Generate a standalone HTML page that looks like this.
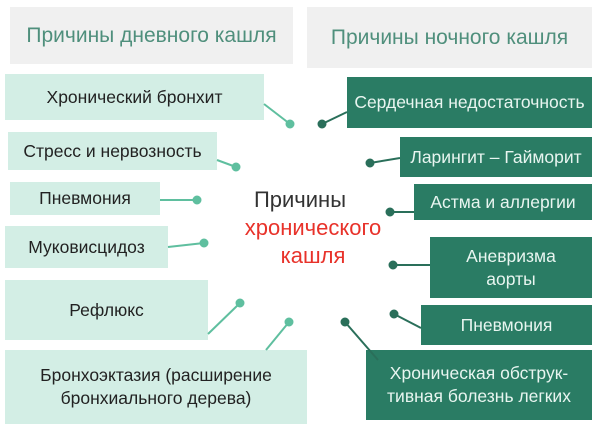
<!DOCTYPE html>
<html><head><meta charset="utf-8"><style>
body{margin:0;width:600px;height:426px;background:#fff;position:relative;overflow:hidden;font-family:"Liberation Sans","DejaVu Sans",sans-serif}
.b{position:absolute;display:flex;align-items:center;justify-content:center;text-align:center;font-size:17.5px;line-height:23px;white-space:nowrap}
.l{background:#d3eee5;color:#222}
.d{background:#2a7c64;color:#e8f5f0}
.h{background:#f0f0f0;color:#4f8f7c;font-size:21px}
svg{position:absolute;left:0;top:0}
.c{position:absolute;width:240px;text-align:center;font-size:22px;line-height:28px}
</style></head><body>
<div class="b h" style="left:10px;top:7px;width:283px;height:57px">Причины дневного кашля</div>
<div class="b h" style="left:307px;top:7px;width:285px;height:61px">Причины ночного кашля</div>

<div class="b l" style="left:5px;top:74px;width:259px;height:46px">Хронический бронхит</div>
<div class="b l" style="left:8px;top:132px;width:209px;height:38px">Стресс и нервозность</div>
<div class="b l" style="left:10px;top:182px;width:150px;height:33px">Пневмония</div>
<div class="b l" style="left:5px;top:226px;width:163px;height:42px">Муковисцидоз</div>
<div class="b l" style="left:5px;top:280px;width:203px;height:60px">Рефлюкс</div>
<div class="b l" style="left:5px;top:350px;width:302px;height:74px">Бронхоэктазия (расширение<br>бронхиального дерева)</div>

<div class="b d" style="left:347px;top:77px;width:245px;height:51px">Сердечная недостаточность</div>
<div class="b d" style="left:400px;top:137px;width:192px;height:40px">Ларингит – Гайморит</div>
<div class="b d" style="left:414px;top:184px;width:178px;height:36px">Астма и аллергии</div>
<div class="b d" style="left:430px;top:237px;width:162px;height:61px">Аневризма<br>аорты</div>
<div class="b d" style="left:421px;top:305px;width:171px;height:40px">Пневмония</div>
<div class="b d" style="left:366px;top:350px;width:226px;height:70px">Хроническая обструк-<br>тивная болезнь легких</div>

<div class="c" style="left:180px;top:186px;color:#333">Причины</div>
<div class="c" style="left:193px;top:214px;color:#e8322a">хронического</div>
<div class="c" style="left:193px;top:242px;color:#e8322a">кашля</div>

<svg width="600" height="426">
<g stroke="#5fbf9f" stroke-width="2" fill="#5fbf9f">
<line x1="264" y1="104" x2="290" y2="124"/><circle cx="290" cy="124" r="3.5"/>
<line x1="217" y1="160" x2="236" y2="167"/><circle cx="236" cy="167" r="3.5"/>
<line x1="160" y1="200" x2="197" y2="200"/><circle cx="197" cy="200" r="3.5"/>
<line x1="168" y1="247" x2="204" y2="243"/><circle cx="204" cy="243" r="3.5"/>
<line x1="208" y1="334" x2="240" y2="303"/><circle cx="240" cy="303" r="3.5"/>
<line x1="266" y1="350" x2="289" y2="322"/><circle cx="289" cy="322" r="3.5"/>
</g>
<g stroke="#2a6f5a" stroke-width="2" fill="#2a6f5a">
<line x1="347" y1="112" x2="322" y2="124"/><circle cx="322" cy="124" r="3.5"/>
<line x1="400" y1="158" x2="370" y2="163"/><circle cx="370" cy="163" r="3.5"/>
<line x1="414" y1="212" x2="390" y2="212"/><circle cx="390" cy="212" r="3.5"/>
<line x1="430" y1="265" x2="393" y2="265"/><circle cx="393" cy="265" r="3.5"/>
<line x1="421" y1="328" x2="394" y2="314"/><circle cx="394" cy="314" r="3.5"/>
<line x1="378" y1="360" x2="345" y2="322"/><circle cx="345" cy="322" r="3.5"/>
</g>
</svg>
</body></html>
